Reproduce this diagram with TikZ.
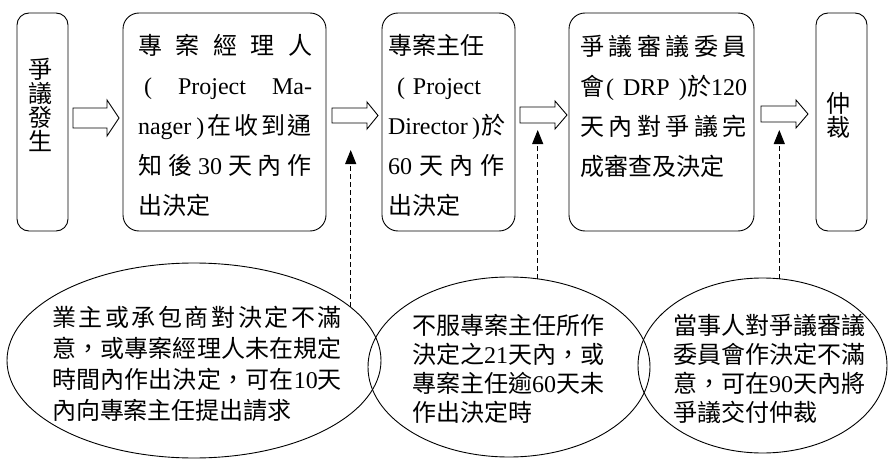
\documentclass[tikz,border=0pt]{standalone}
\usepackage{fontspec}
\setmainfont{Noto Sans CJK TC}
\newfontfamily\latinfont{Liberation Serif}
\newcommand\LT[1]{{\latinfont #1}}
\usetikzlibrary{shapes.geometric,arrows.meta}
\newcommand\JL[2]{\hbox to #1{#2}}
\newcommand\PL[1]{\hbox{#1}}
\newcommand\CL[1]{\hbox to 24pt{\hss #1\hss}}
\newcommand\sg{\hfil}
\newcommand\TB[2]{\vtop{\baselineskip=#1\lineskiplimit=-1000pt\lineskip=0pt #2}}
\newcommand\blockarrow[6]{%
  \draw[blk] (#1,#3-#4) -- (#2-#6,#3-#4) -- (#2-#6,#3-#5) -- (#2,#3)
    -- (#2-#6,#3+#5) -- (#2-#6,#3+#4) -- (#1,#3+#4) -- cycle;}
\begin{document}
\begin{tikzpicture}[x=1pt,y=-1pt,
  box/.style={draw, rectangle, rounded corners=16pt, inner sep=0pt, outer sep=0pt, line width=0.9pt},
  narrowbox/.style={box, rounded corners=12pt},
  oval/.style={draw, ellipse, inner sep=0pt, outer sep=0pt, line width=0.9pt},
  txt/.style={inner sep=0pt, outer sep=0pt, anchor=base west, font=\fontsize{24pt}{24pt}\selectfont},
  blk/.style={draw, line width=0.9pt, fill=white, line join=miter},
  dasharrow/.style={line width=0.9pt, dash pattern=on 5pt off 3pt, -{Triangle[width=11pt,length=14pt]}},
]
\useasboundingbox (0,0) rectangle (889,460);

% boxes
\node[narrowbox, minimum width=51pt, minimum height=218pt] (b1) at (42.5,122) {};
\node[box, minimum width=203pt, minimum height=218pt] (b2) at (224.5,122) {};
\node[box, minimum width=133pt, minimum height=218pt] (b3) at (448.5,122) {};
\node[box, minimum width=185pt, minimum height=218pt] (b4) at (661.5,122) {};
\node[narrowbox, minimum width=51pt, minimum height=218pt] (b5) at (841.5,122) {};

% box texts
\node[txt, anchor=base] (b1t) at (40,78) {\TB{24.3pt}{\CL{爭}\CL{議}\CL{發}\CL{生}}};
\node[txt] (b2t) at (138,55) {\TB{40pt}{%
  \JL{174pt}{專\sg 案\sg 經\sg 理\sg 人}%
  \JL{174pt}{\hspace{6pt}\LT{(}\sg\LT{Project}\sg\LT{Ma-}}%
  \JL{174pt}{\LT{nager}\hspace{5pt}\LT{)}\hspace{3pt}在\sg 收\sg 到\sg 通}%
  \JL{174pt}{知\sg 後\sg\LT{30}\sg 天\sg 內\sg 作}%
  \PL{出決定}}};
\node[txt] (b3t) at (388,55) {\TB{40pt}{%
  \PL{專案主任}%
  \PL{\hspace{9pt}\LT{(}\hspace{8pt}\LT{Project}}%
  \JL{117pt}{\LT{Director}\sg\LT{)}\hspace{1pt}於}%
  \JL{117pt}{\LT{60}\sg 天\sg 內\sg 作}%
  \PL{出決定}}};
\node[txt] (b4t) at (580,56) {\TB{40pt}{%
  \JL{167pt}{爭\sg 議\sg 審\sg 議\sg 委\sg 員}%
  \JL{167pt}{會\hspace{2pt}\LT{(}\sg\LT{DRP}\sg\LT{)}於\LT{120}}%
  \JL{167pt}{天\sg 內\sg 對\sg 爭\sg 議\sg 完}%
  \PL{成審查及決定}}};
\node[txt, anchor=base] (b5t) at (838,112) {\TB{24.3pt}{\CL{仲}\CL{裁}}};

% block arrows
\blockarrow{73}{119}{118}{10}{18}{12}
\blockarrow{332}{378}{115.5}{7.5}{13.5}{11}
\blockarrow{520}{567}{115}{8}{14}{12}
\blockarrow{761}{808}{114}{8}{14}{12}

% ellipses
\node[oval, minimum width=374pt, minimum height=195pt] (e1) at (194,360.5) {};
\node[oval, minimum width=282pt, minimum height=180pt] (e2) at (509,367) {};
\node[oval, minimum width=249pt, minimum height=175pt] (e3) at (762.5,365.5) {};

\node[txt] (e1t) at (52,326) {\TB{31.3pt}{%
  \JL{290pt}{業\sg 主\sg 或\sg 承\sg 包\sg 商\sg 對\sg 決\sg 定\sg 不\sg 滿}%
  \JL{290pt}{意\sg ，\sg 或\sg 專\sg 案\sg 經\sg 理\sg 人\sg 未\sg 在\sg 規\sg 定}%
  \JL{290pt}{時\sg 間\sg 內\sg 作\sg 出\sg 決\sg 定\sg ，\sg 可\sg 在\sg\LT{10}\sg 天}%
  \PL{內向專案主任提出請求}}};
\node[txt] (e2t) at (412,334) {\TB{29pt}{%
  \PL{不服專案主任所作}%
  \PL{決定之\LT{21}天內，或}%
  \PL{專案主任逾\LT{60}天未}%
  \PL{作出決定時}}};
\node[txt] (e3t) at (673,334) {\TB{29pt}{%
  \PL{當事人對爭議審議}%
  \PL{委員會作決定不滿}%
  \PL{意，可在\LT{90}天內將}%
  \PL{爭議交付仲裁}}};

% dashed arrows
\coordinate (t1) at (350.7,150);
\coordinate (t2) at (537.7,130);
\coordinate (t3) at (779.3,130);
\draw[dasharrow] (t1 |- e1.19) -- (t1);
\draw[dasharrow] (t2 |- e2.72) -- (t2);
\draw[dasharrow] (t3 |- e3.79) -- (t3);
\end{tikzpicture}
\end{document}
